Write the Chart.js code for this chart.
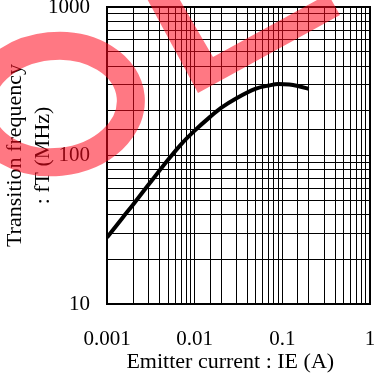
<!DOCTYPE html>
<html>
<head>
<meta charset="utf-8">
<script src="https://cdn.jsdelivr.net/npm/chart.js@4"></script>
<style>
  html, body { margin: 0; padding: 0; background: #fff; }
  #wrap { width: 377px; height: 374px; }
</style>
</head>
<body>
<div id="wrap"><canvas id="myChart" width="377" height="374"></canvas></div>
<script>
// emitter current (A) and transition frequency (MHz)
var currentA = [0.001, 0.0015, 0.002, 0.003, 0.005, 0.007, 0.01, 0.015, 0.02, 0.03, 0.05, 0.07, 0.09, 0.12, 0.15, 0.2];
var freqMHz = [28, 38, 47, 64, 94, 119, 147, 182, 209, 243, 282, 296, 303, 301, 294, 281];
var xTickLabels = ['0.001', '0.01', '0.1', '1'];
var yTickLabels = ['10', '100', '1000'];

var serif = 'Liberation Serif, Times New Roman, serif';

function isDecade(v) {
    var l = Math.log10(v);
    return Math.abs(l - Math.round(l)) < 1e-9;
}

function labelFrom(list) {
    return function (value) {
        if (!isDecade(value)) return '';
        var hit = list.find(function (t) { return Math.abs(Number(t) - value) < value * 1e-6; });
        return hit || '';
    };
}

// frame around the plot area
var frame = {
    id: 'frame',
    afterDatasetsDraw: function (chart) {
        var a = chart.chartArea, c = chart.ctx;
        c.save();
        c.strokeStyle = '#000';
        c.lineWidth = 2;
        c.strokeRect(a.left, a.top, a.right - a.left, a.bottom - a.top);
        c.restore();
    }
};

// red stamp over the picture
var stamp = {
    id: 'stamp',
    afterDraw: function (chart) {
        var c = chart.ctx;
        c.save();
        c.strokeStyle = 'rgba(255, 10, 30, 0.55)';
        c.fillStyle = 'rgba(255, 10, 30, 0.55)';
        c.lineWidth = 28;
        c.beginPath();
        c.ellipse(55, 104, 76, 58, -0.1, 0, Math.PI * 2);
        c.stroke();
        c.beginPath();
        c.moveTo(145, -5);
        c.lineTo(198, 93);
        c.lineTo(340, 15);
        c.lineTo(328, -6);
        c.lineTo(213, 57);
        c.lineTo(177, -5);
        c.closePath();
        c.fill();
        c.restore();
    }
};

var ctx = document.getElementById('myChart').getContext('2d');
var myChart = new Chart(ctx, {
    type: 'line',
    data: {
        datasets: [{
            data: currentA.map(function (x, i) { return { x: x, y: freqMHz[i] }; }),
            borderColor: '#000',
            borderWidth: 4,
            pointRadius: 0,
            cubicInterpolationMode: 'monotone',
            fill: false
        }]
    },
    options: {
        responsive: false,
        animation: false,
        events: [],
        layout: {
            padding: { left: 0, top: 7, right: 7, bottom: 0 }
        },
        plugins: {
            legend: { display: false },
            tooltip: { enabled: false }
        },
        scales: {
            x: {
                type: 'logarithmic',
                min: 0.001,
                max: 1,
                grid: { color: '#000', lineWidth: 1, drawTicks: false },
                border: { display: false },
                ticks: {
                    autoSkip: false,
                    maxRotation: 0,
                    padding: 23,
                    color: '#000',
                    font: { family: serif, size: 21 },
                    callback: labelFrom(xTickLabels)
                },
                title: {
                    display: true,
                    text: 'Emitter current : IE (A)   ',
                    color: '#000',
                    padding: 0,
                    font: { family: serif, size: 22, lineHeight: 1.1 }
                },
                afterFit: function (s) {
                    s.height = 70;
                    s.paddingLeft = 0;
                    s.paddingRight = 0;
                }
            },
            y: {
                type: 'logarithmic',
                min: 10,
                max: 1000,
                grid: { color: '#000', lineWidth: 1, drawTicks: false },
                border: { display: false },
                ticks: {
                    autoSkip: false,
                    padding: 17,
                    color: '#000',
                    font: { family: serif, size: 21 },
                    callback: labelFrom(yTickLabels)
                },
                title: {
                    display: true,
                    text: ['Transition frequency', ': fT (MHz)'],
                    color: '#000',
                    padding: { top: 1, bottom: 0 },
                    font: { family: serif, size: 22, lineHeight: 1.273 }
                },
                afterFit: function (s) {
                    s.width = 107;
                    s.paddingTop = 0;
                    s.paddingBottom = 0;
                }
            }
        }
    },
    plugins: [frame, stamp]
});
</script>
</body>
</html>
